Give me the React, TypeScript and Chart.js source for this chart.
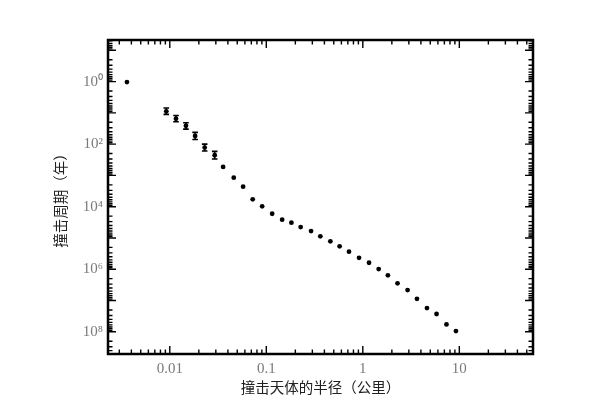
import React, { useEffect, useRef } from "react";
import { Chart, registerables } from "chart.js";

Chart.register(...registerables);

// Impactor radius (km)
const radiusKm = [
  0.0036, 0.0092, 0.0116, 0.0147, 0.0183, 0.023, 0.0292, 0.0357, 0.046, 0.0575,
  0.0723, 0.0906, 0.115, 0.146, 0.182, 0.227, 0.291, 0.363, 0.461, 0.575,
  0.719, 0.914, 1.16, 1.46, 1.82, 2.29, 2.91, 3.64, 4.62, 5.81, 7.36, 9.23,
];
// Impact period (years)
const periodYears = [
  1.04, 8.9, 15.3, 26, 55, 129, 226, 537, 1180, 2290,
  5800, 9700, 16800, 26000, 32500, 44700, 60000, 88500, 128000, 185000,
  275000, 430000, 620000, 986000, 1.57e6, 2.83e6, 4.63e6, 8.8e6, 1.75e7, 2.7e7, 5.8e7, 9.5e7,
];
// Error bars (indices into the arrays above)
const errIndex = [1, 2, 3, 4, 5, 6];
const errLow = [7.0, 12.2, 20.8, 42, 100, 170];
const errHigh = [11.2, 19.3, 33, 71, 166, 300];

const xTickValues = [0.01, 0.1, 1, 10];
const xTickLabels = ["0.01", "0.1", "1", "10"];
const yTickValues = [1, 100, 1e4, 1e6, 1e8];
const yTickLabels = ["10⁰", "10²", "10⁴", "10⁶", "10⁸"];

const xTitle = "撞击天体的半径（公里）";
const yTitle = "撞击周期（年）";

const framePlugin = {
  id: "frameTicks",
  afterDatasetsDraw(chart: any) {
    const { ctx, chartArea: a, scales } = chart;
    const xs = scales.x;
    const ys = scales.y;
    ctx.save();
    // error bars
    ctx.strokeStyle = "#000";
    ctx.lineWidth = 1.6;
    errIndex.forEach((i, k) => {
      const px = xs.getPixelForValue(radiusKm[i]);
      const y1 = ys.getPixelForValue(errLow[k]);
      const y2 = ys.getPixelForValue(errHigh[k]);
      ctx.beginPath();
      ctx.moveTo(px, y1);
      ctx.lineTo(px, y2);
      ctx.moveTo(px - 2.8, y1);
      ctx.lineTo(px + 2.8, y1);
      ctx.moveTo(px - 2.8, y2);
      ctx.lineTo(px + 2.8, y2);
      ctx.stroke();
    });
    // inward log ticks on all sides
    const drawTicks = (scale: any, horizontal: boolean) => {
      const lo = Math.log10(Math.min(scale.min, scale.max));
      const hi = Math.log10(Math.max(scale.min, scale.max));
      for (let d = Math.floor(lo); d <= Math.ceil(hi); d++) {
        for (let m = 1; m <= 9; m++) {
          const v = m * Math.pow(10, d);
          const lv = Math.log10(v);
          if (lv < lo || lv > hi) continue;
          const p = scale.getPixelForValue(v);
          const len = m === 1 ? 8 : 4.5;
          ctx.lineWidth = 1.4;
          ctx.beginPath();
          if (horizontal) {
            ctx.moveTo(p, a.bottom);
            ctx.lineTo(p, a.bottom - len);
            ctx.moveTo(p, a.top);
            ctx.lineTo(p, a.top + len);
          } else {
            ctx.moveTo(a.left, p);
            ctx.lineTo(a.left + len, p);
            ctx.moveTo(a.right, p);
            ctx.lineTo(a.right - len, p);
          }
          ctx.stroke();
        }
      }
    };
    drawTicks(xs, true);
    drawTicks(ys, false);
    // frame
    ctx.lineWidth = 2.5;
    ctx.strokeRect(a.left, a.top, a.right - a.left, a.bottom - a.top);
    ctx.restore();
  },
};

export default function App() {
  const ref = useRef<HTMLCanvasElement | null>(null);
  useEffect(() => {
    if (!ref.current) return;
    const chart = new Chart(ref.current, {
      type: "scatter",
      data: {
        datasets: [
          {
            data: radiusKm.map((r, i) => ({ x: r, y: periodYears[i] })),
            backgroundColor: "#000",
            borderWidth: 0,
            pointRadius: 2.4,
            pointHoverRadius: 2.4,
          },
        ],
      },
      options: {
        animation: false,
        responsive: true,
        maintainAspectRatio: false,
        layout: { padding: { left: 0, top: 40, right: 67, bottom: 0 } },
        plugins: { legend: { display: false }, tooltip: { enabled: false } },
        scales: {
          x: {
            type: "logarithmic",
            min: 0.00229,
            max: 58,
            grid: { display: false, drawTicks: false },
            border: { display: false },
            afterBuildTicks: (s: any) => {
              s.ticks = xTickValues.map((v) => ({ value: v }));
            },
            afterFit: (s: any) => {
              s.height = 61;
            },
            ticks: {
              padding: 6,
              color: "#7a7a7a",
              font: { family: "'Liberation Serif', serif", size: 15 },
              callback: (_v: any, i: number) => xTickLabels[i],
              maxRotation: 0,
              autoSkip: false,
            },
            title: {
              display: true,
              text: xTitle,
              color: "#222",
              font: { family: "'Noto Sans CJK SC', sans-serif", size: 14.5 },
              padding: { top: 0, bottom: 19 },
            },
          },
          y: {
            type: "logarithmic",
            reverse: true,
            min: 0.0468,
            max: 5.13e8,
            grid: { display: false, drawTicks: false },
            border: { display: false },
            afterBuildTicks: (s: any) => {
              s.ticks = yTickValues.map((v) => ({ value: v }));
            },
            afterFit: (s: any) => {
              s.width = 108;
            },
            ticks: {
              padding: 5,
              color: "#7a7a7a",
              font: { family: "'Liberation Serif', serif", size: 15 },
              callback: (_v: any, i: number) => yTickLabels[i],
              autoSkip: false,
            },
            title: {
              display: true,
              text: yTitle,
              color: "#222",
              font: { family: "'Noto Sans CJK SC', sans-serif", size: 14.5 },
              padding: { top: 52, bottom: 0 },
            },
          },
        },
      },
      plugins: [framePlugin],
    });
    return () => chart.destroy();
  }, []);
  return (
    <div style={{ position: "fixed", left: 0, top: 0, width: 600, height: 415, background: "#fff" }}>
      <canvas ref={ref} />
    </div>
  );
}
